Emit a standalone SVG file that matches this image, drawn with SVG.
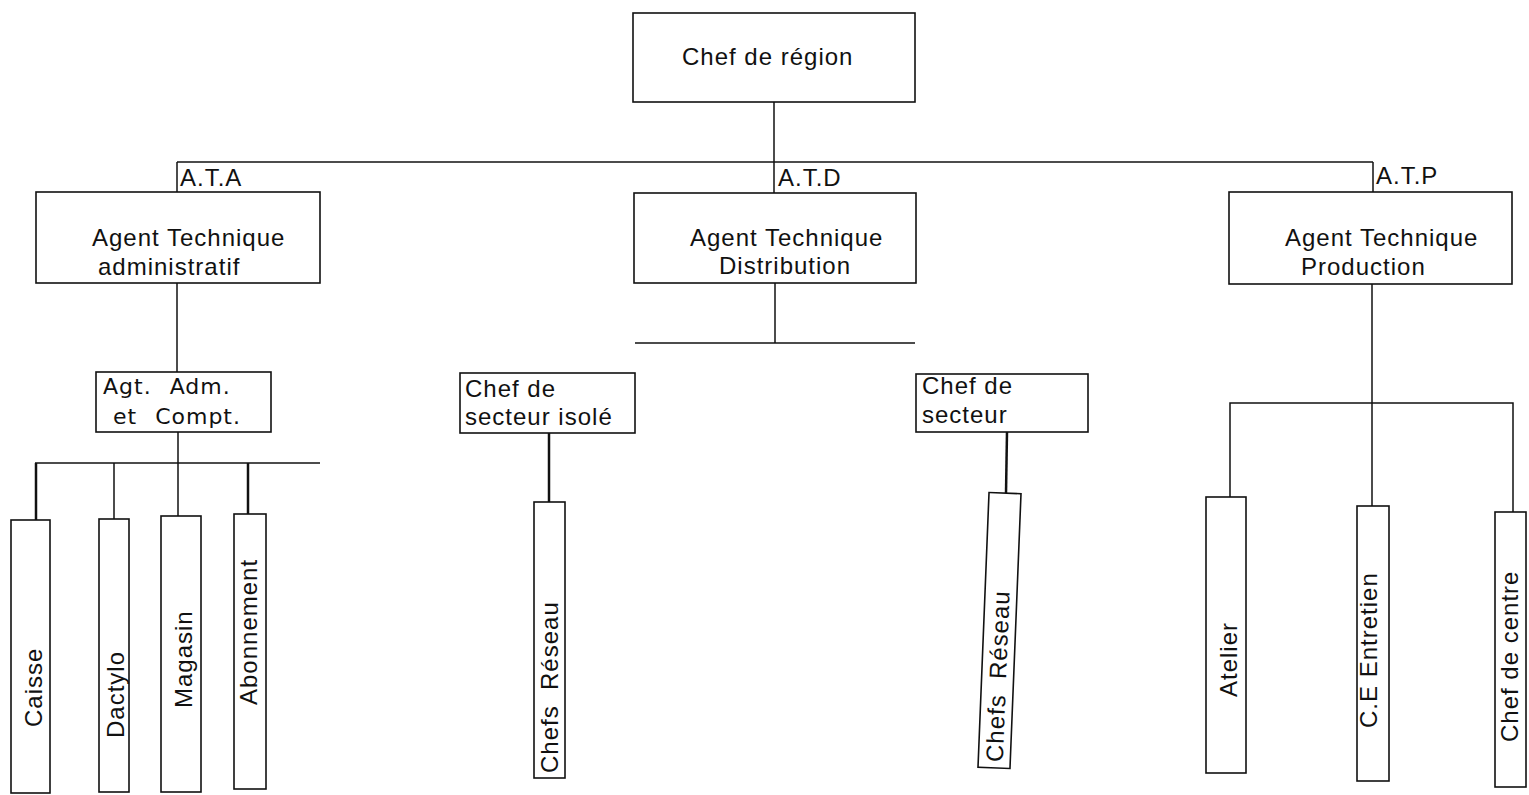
<svg xmlns="http://www.w3.org/2000/svg" width="1529" height="795" viewBox="0 0 1529 795">
  <style>
    .box { fill: #ffffff; stroke: #111111; stroke-width: 1.6; }
    .lbl { font-family: "Liberation Sans", Arial, sans-serif; font-size: 24px; letter-spacing: 1px; fill: #111111; }
    .hand { font-family: "DejaVu Sans", sans-serif; font-size: 22px; letter-spacing: 1px; word-spacing: 10px; fill: #111111; }
    .wire { fill: none; stroke: #111111; stroke-width: 1.5; }
    .wire-bold { fill: none; stroke: #111111; stroke-width: 2.5; }
  </style>
  <rect width="1529" height="795" fill="#ffffff"/>

  <!-- connectors -->
  <g id="connectors">
    <!-- top level -->
    <line class="wire" x1="774" y1="102" x2="774" y2="193"/>
    <line class="wire" x1="177" y1="162" x2="1373" y2="162"/>
    <line class="wire" x1="177" y1="162" x2="177" y2="192"/>
    <line class="wire" x1="1373" y1="162" x2="1373" y2="192"/>
    <!-- administrative branch -->
    <line class="wire" x1="177" y1="283" x2="177" y2="372"/>
    <line class="wire" x1="178" y1="432" x2="178" y2="516"/>
    <line class="wire" x1="35" y1="463" x2="320" y2="463"/>
    <line class="wire-bold" x1="36" y1="463" x2="36" y2="520"/>
    <line class="wire" x1="114" y1="463" x2="114" y2="519"/>
    <line class="wire-bold" x1="248" y1="463" x2="248" y2="514"/>
    <!-- distribution branch -->
    <line class="wire" x1="775" y1="283" x2="775" y2="343"/>
    <line class="wire" x1="635" y1="343" x2="915" y2="343"/>
    <line class="wire-bold" x1="549" y1="433" x2="549" y2="502"/>
    <line class="wire-bold" x1="1007" y1="432" x2="1006" y2="493"/>
    <!-- production branch -->
    <line class="wire" x1="1372" y1="284" x2="1372" y2="506"/>
    <polyline class="wire" points="1230,497 1230,403 1513,403 1513,512"/>
  </g>

  <g id="chef-region">
    <rect class="box" x="633" y="13" width="282" height="89"/>
    <text class="lbl" x="682" y="65">Chef de région</text>
  </g>

  <g id="ata">
    <rect class="box" x="36" y="192" width="284" height="91"/>
    <text class="lbl" x="180" y="186">A.T.A</text>
    <text class="lbl" x="92" y="246">Agent Technique</text>
    <text class="lbl" x="98" y="275">administratif</text>
  </g>

  <g id="atd">
    <rect class="box" x="634" y="193" width="282" height="90"/>
    <text class="lbl" x="778" y="186">A.T.D</text>
    <text class="lbl" x="690" y="246">Agent Technique</text>
    <text class="lbl" x="719" y="274">Distribution</text>
  </g>

  <g id="atp">
    <rect class="box" x="1229" y="192" width="283" height="92"/>
    <text class="lbl" x="1376" y="184">A.T.P</text>
    <text class="lbl" x="1285" y="246">Agent Technique</text>
    <text class="lbl" x="1301" y="275">Production</text>
  </g>

  <g id="agt-adm">
    <rect class="box" x="96" y="372" width="175" height="60"/>
    <text class="hand" x="103" y="394">Agt. Adm.</text>
    <text class="hand" x="113" y="424">et Compt.</text>
  </g>

  <g id="caisse">
    <rect class="box" x="11" y="520" width="39" height="273"/>
    <text class="lbl" transform="translate(42,727) rotate(-90)">Caisse</text>
  </g>

  <g id="dactylo">
    <rect class="box" x="99" y="519" width="30" height="273"/>
    <text class="lbl" transform="translate(124,738) rotate(-90)">Dactylo</text>
  </g>

  <g id="magasin">
    <rect class="box" x="161" y="516" width="40" height="276"/>
    <text class="lbl" transform="translate(192,708) rotate(-90)">Magasin</text>
  </g>

  <g id="abonnement">
    <rect class="box" x="234" y="514" width="32" height="275"/>
    <text class="lbl" transform="translate(257,705) rotate(-90)">Abonnement</text>
  </g>

  <g id="chef-secteur-isole">
    <rect class="box" x="460" y="373" width="175" height="60"/>
    <text class="lbl" x="465" y="397">Chef de</text>
    <text class="lbl" x="465" y="425">secteur isolé</text>
  </g>

  <g id="chefs-reseau-1">
    <rect class="box" x="534" y="502" width="31" height="276"/>
    <text class="lbl" transform="translate(558,773) rotate(-90)">Chefs&#160;&#160;Réseau</text>
  </g>

  <g id="chef-secteur">
    <rect class="box" x="916" y="374" width="172" height="58"/>
    <text class="lbl" x="922" y="394">Chef de</text>
    <text class="lbl" x="922" y="423">secteur</text>
  </g>

  <g id="chefs-reseau-2" transform="rotate(2.3 999.5 630.5)">
    <rect class="box" x="983.5" y="493" width="32" height="275"/>
    <text class="lbl" transform="translate(1008,762) rotate(-90)">Chefs&#160;&#160;Réseau</text>
  </g>

  <g id="atelier">
    <rect class="box" x="1206" y="497" width="40" height="276"/>
    <text class="lbl" transform="translate(1237,697) rotate(-90)">Atelier</text>
  </g>

  <g id="ce-entretien">
    <rect class="box" x="1357" y="506" width="32" height="275"/>
    <text class="lbl" transform="translate(1377,728) rotate(-90)">C.E Entretien</text>
  </g>

  <g id="chef-centre">
    <rect class="box" x="1495" y="512" width="31" height="275"/>
    <text class="lbl" transform="translate(1518,742) rotate(-90)">Chef de centre</text>
  </g>
</svg>
